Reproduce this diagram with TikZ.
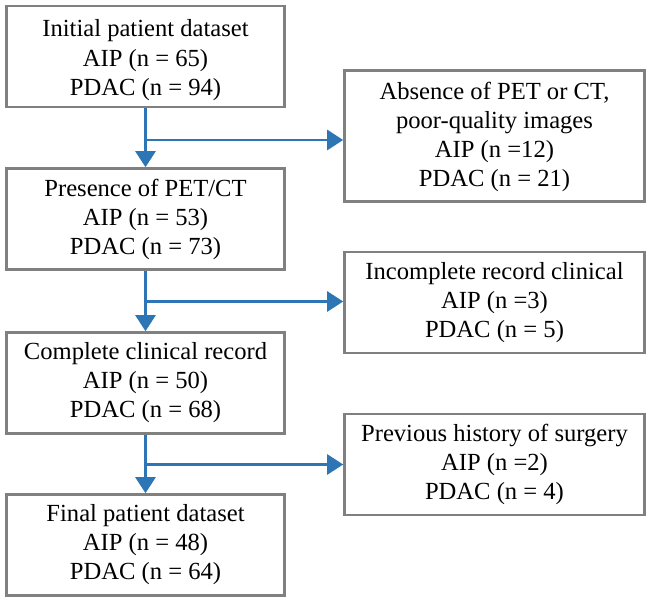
\documentclass[tikz,border=0pt]{standalone}
\usepackage{fontspec}
\setmainfont{Liberation Serif}
\usetikzlibrary{arrows.meta}
\definecolor{boxgray}{HTML}{808080}
\definecolor{arrblue}{HTML}{2E75B6}
\tikzset{
  mainbox/.style={draw=boxgray, line width=2.6pt, fill=white, align=center,
    minimum width=278pt, minimum height=101pt, inner sep=0pt,
    font=\fontsize{24.6}{29}\selectfont},
  sidebox/.style={mainbox, minimum width=300pt},
  sidebox4/.style={sidebox, minimum height=131pt},
  flowarr/.style={draw=arrblue, line width=2.6pt,
    -{Triangle[length=16pt,width=20pt]}}
}
\begin{document}
\begin{tikzpicture}[x=1pt,y=-1pt]
\useasboundingbox (0,0) rectangle (649,604);
\node[mainbox] (b1) at (145.5,56.5) {\rule{0pt}{24pt}Initial patient dataset\\[1.5pt]AIP (n = 65)\\PDAC (n = 94)};
\node[sidebox4] (ra) at (494.5,136) {\rule{0pt}{20pt}Absence of PET or CT,\\poor-quality images\\AIP (n =12)\\PDAC (n = 21)};
\node[mainbox] (b2) at (145.5,219) {Presence of PET/CT\\AIP (n = 53)\\PDAC (n = 73)};
\node[sidebox] (rb) at (494.5,302.5) {Incomplete record clinical\\AIP (n =3)\\PDAC (n = 5)};
\node[mainbox] (b3) at (145.5,383) {Complete clinical record\\AIP (n = 50)\\PDAC (n = 68)};
\node[sidebox] (rc) at (494.5,464.5) {Previous history of surgery\\AIP (n =2)\\PDAC (n = 4)};
\node[mainbox] (b4) at (145.5,545) {Final patient dataset\\AIP (n = 48)\\PDAC (n = 64)};
\coordinate (j1) at (146,140);
\coordinate (j2) at (146,301.5);
\coordinate (j3) at (146,464.5);
\draw[flowarr] (b1.south) -- (b2.north);
\draw[flowarr] (j1) -- (j1 -| ra.west);
\draw[flowarr] (b2.south) -- (b3.north);
\draw[flowarr] (j2) -- (j2 -| rb.west);
\draw[flowarr] (b3.south) -- (b4.north);
\draw[flowarr] (j3) -- (j3 -| rc.west);
\end{tikzpicture}
\end{document}
